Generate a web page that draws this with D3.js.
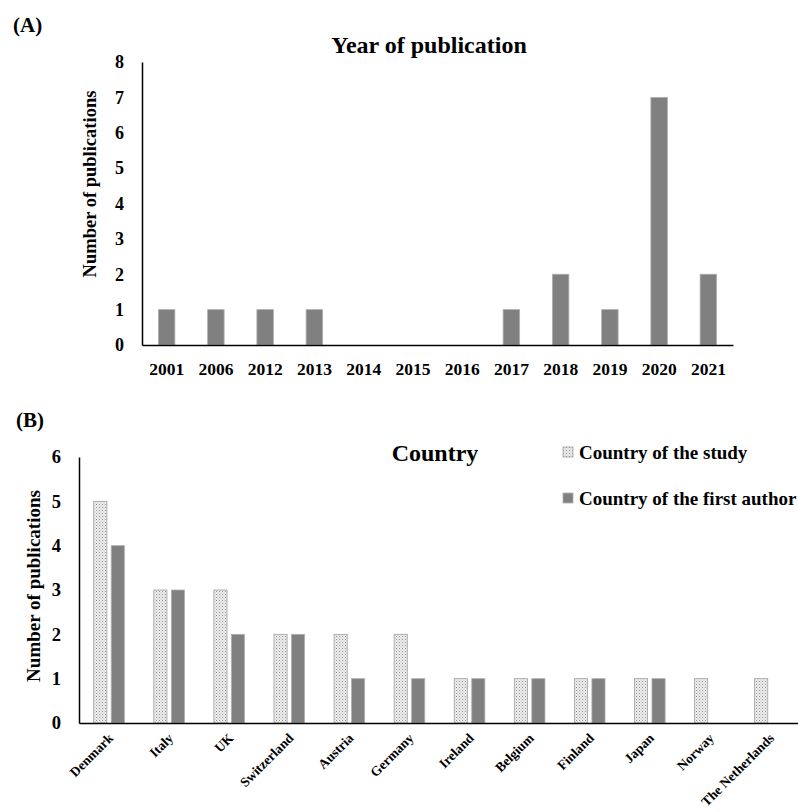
<!DOCTYPE html>
<html lang="en">
	<head>
		<meta charset="utf-8">
		<title>publications</title>
		<script src="https://d3js.org/d3.v7.min.js"></script>
		<style type="text/css">
			body { margin: 0; background: white; }
			text {
				font-family: "Liberation Serif", "Times New Roman", serif;
				font-weight: bold;
				fill: black;
			}
			.domain { stroke: black; stroke-width: 1.5px; }
		</style>
	</head>
	<body>
		<div id="chart"></div>
		<script type="text/javascript">

		// panel A data
		var years = ["2001","2006","2012","2013","2014","2015","2016","2017","2018","2019","2020","2021"];
		var yearCounts = [1,1,1,1,0,0,0,1,2,1,7,2];

		// panel B data
		var countries = ["Denmark","Italy","UK","Switzerland","Austria","Germany","Ireland","Belgium","Finland","Japan","Norway","The Netherlands"];
		var studyCounts = [5,3,3,2,2,2,1,1,1,1,1,1];
		var authorCounts = [4,3,2,2,1,1,1,1,1,1,0,0];
		var seriesNames = ["Country of the study","Country of the first author"];

		var yTicksA = [0,1,2,3,4,5,6,7,8];
		var yTicksB = [0,1,2,3,4,5,6];

		var w = 798;
		var h = 812;

		var svg = d3.select("#chart")
			.append("svg")
			.attr("width", w)
			.attr("height", h);

		// dotted fill for "country of the study"
		var pat = svg.append("defs").append("pattern")
			.attr("id", "dots")
			.attr("patternUnits", "userSpaceOnUse")
			.attr("width", 3)
			.attr("height", 3);
		pat.append("rect").attr("width", 3).attr("height", 3).attr("fill", "#efefef");
		pat.append("rect").attr("x", 0).attr("y", 0).attr("width", 1).attr("height", 1).attr("fill", "#909090");
		pat.append("rect").attr("x", 1.5).attr("y", 1.5).attr("width", 1).attr("height", 1).attr("fill", "#b0b0b0");

		//---------------- panel A ----------------
		var xA = d3.scaleBand()
			.domain(years)
			.range([142, 733])
			.paddingInner(0.665)
			.paddingOuter(0.3325);

		var yA = d3.scaleLinear()
			.domain([0, 8])
			.range([345, 62]);

		var gA = svg.append("g");

		gA.selectAll("rect")
			.data(yearCounts)
			.enter()
			.append("rect")
			.attr("x", function(d, i) { return xA(years[i]); })
			.attr("y", function(d) { return yA(d); })
			.attr("width", xA.bandwidth())
			.attr("height", function(d) { return yA(0) - yA(d); })
			.attr("fill", "#808080")
			.attr("stroke", "#b0b0b0")
			.attr("stroke-width", 0.8);

		var xAxisA = gA.append("g")
			.attr("transform", "translate(0," + yA(0) + ")")
			.call(d3.axisBottom(xA).tickSize(0).tickPadding(18));
		xAxisA.selectAll("text").style("font-size", "17.5px");

		var yAxisA = gA.append("g")
			.attr("transform", "translate(" + xA.range()[0] + ",0)")
			.call(d3.axisLeft(yA).tickValues(yTicksA).tickSize(0).tickPadding(18).tickFormat(d3.format("d")));
		yAxisA.selectAll("text").style("font-size", "18px");

		svg.append("text")
			.attr("x", 429)
			.attr("y", 53)
			.attr("text-anchor", "middle")
			.style("font-size", "24px")
			.text("Year of publication");

		svg.append("text")
			.attr("x", 13)
			.attr("y", 32)
			.style("font-size", "21px")
			.text("(A)");

		svg.append("text")
			.attr("transform", "translate(96,184) rotate(-90)")
			.attr("text-anchor", "middle")
			.style("font-size", "18.5px")
			.text("Number of publications");

		//---------------- panel B ----------------
		var xB = d3.scaleBand()
			.domain(countries)
			.range([79, 800])
			.paddingInner(0.49)
			.paddingOuter(0.245);

		var xSub = d3.scaleBand()
			.domain(seriesNames)
			.range([0, xB.bandwidth()])
			.paddingInner(0.25);

		var yB = d3.scaleLinear()
			.domain([0, 6])
			.range([723, 457]);

		var gB = svg.append("g");

		gB.selectAll("rect.study")
			.data(studyCounts)
			.enter()
			.append("rect")
			.attr("class", "study")
			.attr("x", function(d, i) { return xB(countries[i]) + xSub(seriesNames[0]); })
			.attr("y", function(d) { return yB(d); })
			.attr("width", xSub.bandwidth())
			.attr("height", function(d) { return yB(0) - yB(d); })
			.attr("fill", "url(#dots)")
			.attr("stroke", "#a0a0a0")
			.attr("stroke-width", 0.8);

		gB.selectAll("rect.author")
			.data(authorCounts)
			.enter()
			.append("rect")
			.attr("class", "author")
			.attr("x", function(d, i) { return xB(countries[i]) + xSub(seriesNames[1]); })
			.attr("y", function(d) { return yB(d); })
			.attr("width", xSub.bandwidth())
			.attr("height", function(d) { return yB(0) - yB(d); })
			.attr("fill", "#808080")
			.attr("stroke", "#b0b0b0")
			.attr("stroke-width", 0.8);

		var xAxisB = gB.append("g")
			.attr("transform", "translate(0," + yB(0) + ")")
			.call(d3.axisBottom(xB).tickSize(0).tickPadding(0));
		xAxisB.selectAll("text")
			.style("font-size", "13.5px")
			.attr("text-anchor", "end")
			.attr("dy", "0")
			.attr("transform", "translate(5,16) rotate(-45)");

		var yAxisB = gB.append("g")
			.attr("transform", "translate(" + xB.range()[0] + ",0)")
			.call(d3.axisLeft(yB).tickValues(yTicksB).tickSize(0).tickPadding(18).tickFormat(d3.format("d")));
		yAxisB.selectAll("text").style("font-size", "18.5px");

		svg.append("text")
			.attr("x", 435)
			.attr("y", 461)
			.attr("text-anchor", "middle")
			.style("font-size", "24px")
			.text("Country");

		svg.append("text")
			.attr("x", 16)
			.attr("y", 427)
			.style("font-size", "21px")
			.text("(B)");

		svg.append("text")
			.attr("transform", "translate(40,586) rotate(-90)")
			.attr("text-anchor", "middle")
			.style("font-size", "19px")
			.text("Number of publications");

		// legend
		var legend = svg.selectAll("g.legend")
			.data(seriesNames)
			.enter()
			.append("g")
			.attr("class", "legend")
			.attr("transform", function(d, i) { return "translate(563," + (447 + i * 46) + ")"; });

		legend.append("rect")
			.attr("width", 10)
			.attr("height", 10)
			.attr("fill", function(d, i) { return i == 0 ? "url(#dots)" : "#808080"; })
			.attr("stroke", function(d, i) { return i == 0 ? "#a0a0a0" : "#b0b0b0"; })
			.attr("stroke-width", 0.8);

		legend.append("text")
			.attr("x", 16)
			.attr("y", 12)
			.style("font-size", "19px")
			.text(function(d) { return d; });

		</script>
	</body>
</html>
